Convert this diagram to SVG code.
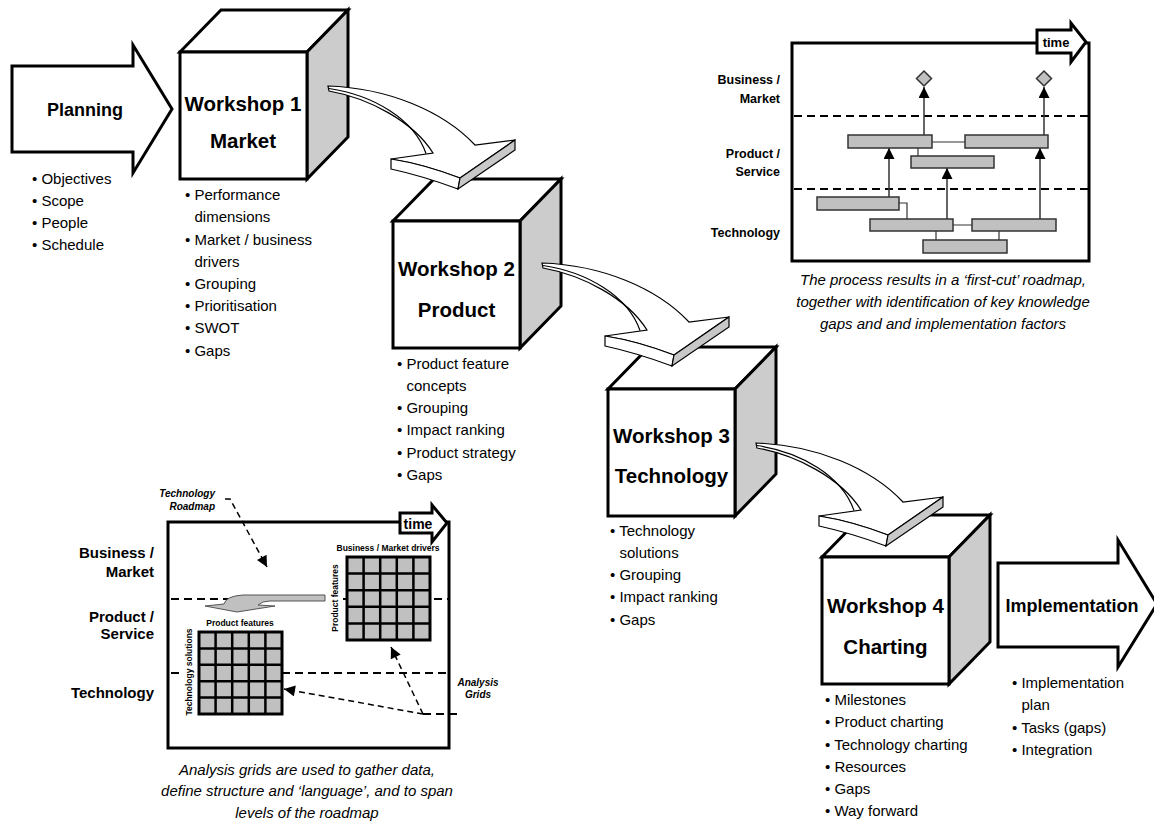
<svg xmlns="http://www.w3.org/2000/svg" xmlns:xlink="http://www.w3.org/1999/xlink" width="1154" height="823" viewBox="0 0 1154 823">
<style>
  text { font-family: "Liberation Sans", Arial, sans-serif; fill: #000; }
  .blt { font-size: 15px; }
  .ws { font-size: 20.5px; font-weight: bold; text-anchor: middle; }
  .big { font-size: 18px; font-weight: bold; text-anchor: middle; }
  .lvl { font-size: 12.5px; font-weight: bold; text-anchor: end; }
  .lvl2 { font-size: 15px; font-weight: bold; text-anchor: end; }
  .cap { font-size: 15px; font-style: italic; text-anchor: middle; }
  .note { font-size: 10px; font-style: italic; font-weight: bold; }
  .tiny { font-size: 8.5px; font-weight: bold; text-anchor: middle; }
  .time { font-weight: bold; text-anchor: middle; }
  .front { fill: #fff; stroke: #000; stroke-width: 3; }
  .top { fill: #fff; stroke: #000; stroke-width: 3; stroke-linejoin: miter; }
  .side { fill: #cccccc; stroke: #000; stroke-width: 3; stroke-linejoin: miter; }
  .bigarrow { fill: #fff; stroke: #000; stroke-width: 3; stroke-linejoin: miter; }
  .box { fill: #fff; stroke: #000; stroke-width: 3; }
  .dash { fill: none; stroke: #000; stroke-width: 2; stroke-dasharray: 8 5; }
  .bar { fill: #c0c0c0; stroke: #333; stroke-width: 1.5; }
  .thin { fill: none; stroke: #333; stroke-width: 1.2; }
  .up { fill: none; stroke: #333; stroke-width: 1.5; marker-end: url(#ah); }
  .dasharr { fill: none; stroke: #000; stroke-width: 1.5; stroke-dasharray: 6 4; marker-end: url(#ah2); }
  .rib { stroke: #000; stroke-width: 1.2; stroke-linejoin: miter; }
</style>
<defs>
  <marker id="ah" viewBox="0 0 10 10" refX="10" refY="5" markerUnits="userSpaceOnUse" markerWidth="11" markerHeight="11" orient="auto">
    <path d="M0,0 L10,5 L0,10 Z" fill="#000"/>
  </marker>
  <marker id="ah2" viewBox="0 0 10 10" refX="10" refY="5" markerUnits="userSpaceOnUse" markerWidth="12" markerHeight="11" orient="auto">
    <path d="M0,0 L10,5 L0,10 Z" fill="#000"/>
  </marker>
  <g id="ribbon">
    <path class="rib" fill="#fff" d="M0,0 C60,2 115,25 147,59 L187,54 L132,92 Q95,78 63,73 L105,67 C85,35 40,12 1,5 Z"/>
    <path class="rib" fill="none" d="M1,2.5 C45,9 86,33 98,67.5"/>
    <path class="rib" fill="#fff" d="M63,73 L63,83 Q95,90 130,103 L132,92 Q95,78 63,73 Z"/>
    <path class="rib" fill="#c8c8c8" d="M132,92 L130,103 L187,64 L187,54 Z"/>
  </g>
  <g id="grid">
    <rect x="0" y="0" width="83" height="83" fill="#c0c0c0" stroke="#000" stroke-width="3"/>
    <path d="M16.6,0 V83 M33.2,0 V83 M49.8,0 V83 M66.4,0 V83 M0,16.6 H83 M0,33.2 H83 M0,49.8 H83 M0,66.4 H83" stroke="#000" stroke-width="2.5" fill="none"/>
  </g>
</defs>

<!-- Planning -->
<g id="planning">
  <polygon class="bigarrow" points="12,66 133,66 133,45 172,109 133,173 133,152 12,152"/>
  <text class="big" x="85" y="116">Planning</text>
  <text class="blt" x="32" y="184">• Objectives</text>
  <text class="blt" x="32" y="206">• Scope</text>
  <text class="blt" x="32" y="228">• People</text>
  <text class="blt" x="32" y="250">• Schedule</text>
</g>

<!-- Workshop 1 -->
<g id="workshop1">
  <polygon class="top" points="180,52 221,10 348,10 307,52"/>
  <polygon class="side" points="307,52 348,10 348,137 307,179"/>
  <rect class="front" x="180" y="52" width="127" height="127"/>
  <text class="ws" x="243" y="111">Workshop 1</text>
  <text class="ws" x="243" y="148">Market</text>
  <text class="blt" x="185" y="200">• Performance</text>
  <text class="blt" x="194.5" y="222">dimensions</text>
  <text class="blt" x="185" y="244.5">• Market / business</text>
  <text class="blt" x="194.5" y="266.5">drivers</text>
  <text class="blt" x="185" y="289">• Grouping</text>
  <text class="blt" x="185" y="311">• Prioritisation</text>
  <text class="blt" x="185" y="333">• SWOT</text>
  <text class="blt" x="185" y="355.5">• Gaps</text>
</g>

<!-- Workshop 2 -->
<g id="workshop2">
  <polygon class="top" points="393,221 434,179 561,179 520,221"/>
  <polygon class="side" points="520,221 561,179 561,306 520,348"/>
  <rect class="front" x="393" y="221" width="127" height="127"/>
  <text class="ws" x="456.5" y="276">Workshop 2</text>
  <text class="ws" x="456.5" y="317">Product</text>
  <text class="blt" x="397" y="369">• Product feature</text>
  <text class="blt" x="406.5" y="391">concepts</text>
  <text class="blt" x="397" y="413">• Grouping</text>
  <text class="blt" x="397" y="435">• Impact ranking</text>
  <text class="blt" x="397" y="457.5">• Product strategy</text>
  <text class="blt" x="397" y="480">• Gaps</text>
</g>

<!-- Workshop 3 -->
<g id="workshop3">
  <polygon class="top" points="608,389 649,347 776,347 735,389"/>
  <polygon class="side" points="735,389 776,347 776,474 735,516"/>
  <rect class="front" x="608" y="389" width="127" height="127"/>
  <text class="ws" x="671.5" y="443">Workshop 3</text>
  <text class="ws" x="671.5" y="483">Technology</text>
  <text class="blt" x="610" y="535.5">• Technology</text>
  <text class="blt" x="619.5" y="557.5">solutions</text>
  <text class="blt" x="610" y="580">• Grouping</text>
  <text class="blt" x="610" y="602">• Impact ranking</text>
  <text class="blt" x="610" y="624.5">• Gaps</text>
</g>

<!-- Workshop 4 -->
<g id="workshop4">
  <polygon class="top" points="822,557 863,515 990,515 949,557"/>
  <polygon class="side" points="949,557 990,515 990,642 949,684"/>
  <rect class="front" x="822" y="557" width="127" height="127"/>
  <text class="ws" x="885.5" y="613">Workshop 4</text>
  <text class="ws" x="885.5" y="654">Charting</text>
  <text class="blt" x="825" y="705">• Milestones</text>
  <text class="blt" x="825" y="727">• Product charting</text>
  <text class="blt" x="825" y="749.5">• Technology charting</text>
  <text class="blt" x="825" y="772">• Resources</text>
  <text class="blt" x="825" y="794">• Gaps</text>
  <text class="blt" x="825" y="816">• Way forward</text>
</g>

<!-- Implementation -->
<g id="implementation">
  <polygon class="bigarrow" points="998,563 1118,563 1118,540 1157,604 1118,667 1118,647 998,647"/>
  <text class="big" x="1072" y="612">Implementation</text>
  <text class="blt" x="1012" y="688">• Implementation</text>
  <text class="blt" x="1021.5" y="710">plan</text>
  <text class="blt" x="1012" y="733">• Tasks (gaps)</text>
  <text class="blt" x="1012" y="755">• Integration</text>
</g>

<!-- Connectors: curved 3D arrows between workshops -->
<g id="connectors">
  <use xlink:href="#ribbon" href="#ribbon" transform="translate(328,86)"/>
  <use xlink:href="#ribbon" href="#ribbon" transform="translate(542,263)"/>
  <use xlink:href="#ribbon" href="#ribbon" transform="translate(756,443)"/>
</g>

<!-- First-cut roadmap (top right) -->
<g id="roadmap">
  <rect class="box" x="792" y="43" width="297" height="218"/>
  <polygon class="bigarrow" points="1037,30 1071,30 1071,23 1086,42 1071,62 1071,53 1037,53"/>
  <text class="time" x="1056" y="47" font-size="13">time</text>
  <line class="dash" x1="794" y1="116" x2="1088" y2="116"/>
  <line class="dash" x1="794" y1="189" x2="1088" y2="189"/>
  <text class="lvl" x="780" y="84">Business /</text>
  <text class="lvl" x="780" y="103">Market</text>
  <text class="lvl" x="780" y="158">Product /</text>
  <text class="lvl" x="780" y="176">Service</text>
  <text class="lvl" x="780" y="237">Technology</text>
  <path class="thin" d="M932,142 H965 M918,148 V156 M899,203 H907 V219 M953,225 H972 M936,231 V240 M999,231 V240"/>
  <path class="up" d="M889,197 V148"/>
  <path class="up" d="M947,219 V168"/>
  <path class="up" d="M1040,219 V148"/>
  <path class="up" d="M924,135 V87"/>
  <path class="up" d="M1044,135 V87"/>
  <rect class="bar" x="848" y="135" width="84" height="13"/>
  <rect class="bar" x="965" y="135" width="83" height="13"/>
  <rect class="bar" x="911" y="156" width="83" height="12"/>
  <rect class="bar" x="817" y="197" width="82" height="13"/>
  <rect class="bar" x="870" y="219" width="83" height="12"/>
  <rect class="bar" x="972" y="219" width="84" height="12"/>
  <rect class="bar" x="923" y="240" width="84" height="13"/>
  <polygon class="bar" points="924,71 931.5,78.5 924,86 916.5,78.5"/>
  <polygon class="bar" points="1044,71 1051.5,78.5 1044,86 1036.5,78.5"/>
  <text class="cap" x="943" y="285">The process results in a ‘first-cut’ roadmap,</text>
  <text class="cap" x="943" y="307">together with identification of key knowledge</text>
  <text class="cap" x="943" y="329">gaps and and implementation factors</text>
</g>

<!-- Analysis grids (bottom left) -->
<g id="analysis">
  <rect class="box" x="168" y="522" width="281" height="226"/>
  <polygon class="bigarrow" points="400,513 432,513 432,505 447,523 432,542 432,533 400,533"/>
  <text class="time" x="418" y="529" font-size="14">time</text>
  <text class="lvl2" x="154" y="558">Business /</text>
  <text class="lvl2" x="154" y="577">Market</text>
  <text class="lvl2" x="154" y="622">Product /</text>
  <text class="lvl2" x="154" y="639">Service</text>
  <text class="lvl2" x="154" y="698">Technology</text>
  <path class="dash" d="M171,599 H325 M343,599 H448"/>
  <path class="dash" d="M171,673 H182 M282,673 H448"/>
  <use xlink:href="#grid" href="#grid" transform="translate(347,557)"/>
  <use xlink:href="#grid" href="#grid" transform="translate(199,632) scale(1,0.988)"/>
  <text class="tiny" x="388" y="551" font-size="9">Business / Market drivers</text>
  <text class="tiny" x="240" y="626">Product features</text>
  <text class="tiny" transform="translate(338,598) rotate(-90)">Product features</text>
  <text class="tiny" transform="translate(192,672) rotate(-90)">Technology solutions</text>
  <path d="M325,595 L243,595 Q226,596 224,604 L205,606 L237,612 L275,606 L258,605 Q262,601 270,601 L325,601 Z" fill="#c0c0c0" stroke="#555" stroke-width="1"/>
  <text class="note" x="215" y="497" text-anchor="end">Technology</text>
  <text class="note" x="215" y="510" text-anchor="end">Roadmap</text>
  <path class="dasharr" d="M225,499 H230 L267,567"/>
  <path class="dash" d="M423,714 H462" stroke-width="2"/>
  <path class="dasharr" d="M423,714 L284,689"/>
  <path class="dasharr" d="M423,714 L391,647"/>
  <text class="note" x="478" y="686" text-anchor="middle">Analysis</text>
  <text class="note" x="478" y="698" text-anchor="middle">Grids</text>
  <text class="cap" x="307" y="775">Analysis grids are used to gather data,</text>
  <text class="cap" x="307" y="796">define structure and ‘language’, and to span</text>
  <text class="cap" x="307" y="818">levels of the roadmap</text>
</g>
</svg>
